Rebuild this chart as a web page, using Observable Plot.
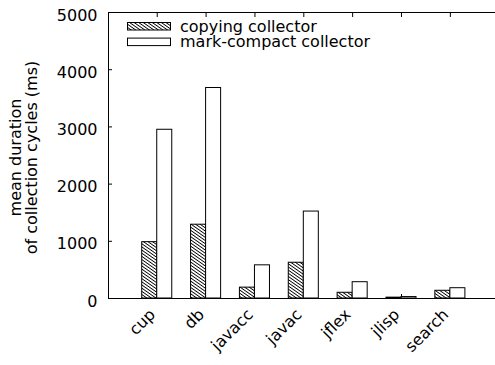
<!DOCTYPE html>
<html>
<head>
<meta charset="utf-8">
<script src="https://cdn.jsdelivr.net/npm/d3@7"></script>
<script src="https://cdn.jsdelivr.net/npm/@observablehq/plot@0.6"></script>
<style>
  html, body { margin: 0; padding: 0; background: #fff; }
  svg { display: block; }
</style>
</head>
<body>
<div id="chart"></div>
<script>
const categories = ["cup", "db", "javacc", "javac", "jflex", "jlisp", "search"];
const copying = [985, 1290, 190, 625, 100, 15, 135];
const markCompact = [2950, 3680, 580, 1520, 285, 25, 180];
const seriesNames = ["copying collector", "mark-compact collector"];
const yTicks = [0, 1000, 2000, 3000, 4000, 5000];
const yLabel = "mean duration\nof collection cycles (ms)";

const W = 495, H = 365;
const mL = 108, mT = 12, mB = 67, mR = -3.6;

const plot = Plot.plot({
  width: W,
  height: H,
  marginLeft: mL,
  marginRight: mR,
  marginTop: mT,
  marginBottom: mB,
  style: { fontFamily: "DejaVu Sans, sans-serif", fontSize: "16px", color: "#000", background: "#fff", overflow: "visible" },
  x: { type: "band", domain: categories, paddingInner: 0.385, paddingOuter: 0.69, round: false },
  y: { domain: [0, 5000], ticks: yTicks },
  marks: [
    // inward ticks
    Plot.axisY({ anchor: "left", ticks: yTicks, tickSize: 4, text: null, dx: 4, label: null }),
    Plot.axisY({ anchor: "right", ticks: yTicks, tickSize: 4, text: null, dx: -4, label: null }),
    Plot.axisX({ anchor: "top", tickSize: 4, text: null, dy: 4, label: null }),
    Plot.axisX({ anchor: "bottom", tickSize: 4, text: null, dy: -4, label: null }),
    // y tick labels
    Plot.axisY({ anchor: "left", ticks: yTicks, tickFormat: d => String(d), tickSize: 0, tickPadding: 11, dy: 3, label: null, fontSize: 16 }),
    // bars
    Plot.barY(categories, { x: categories, y: copying, fill: "url(#hatch)", stroke: "#000", strokeWidth: 1, insetRight: 15.03 }),
    Plot.barY(categories, { x: categories, y: markCompact, fill: "#fff", stroke: "#000", strokeWidth: 1, insetLeft: 15.03 }),
    Plot.frame({ stroke: "#000", strokeWidth: 1 }),
    // x labels
    Plot.text(categories, { x: d => d, frameAnchor: "bottom", text: d => d, rotate: -45, textAnchor: "end", dy: 17, dx: -1, fontSize: 16 }),
    // y label
    Plot.text([yLabel], { frameAnchor: "left", text: d => d, rotate: -90, textAnchor: "middle", dx: -85, dy: 2, lineHeight: 1, fontSize: 16 })
  ]
});

const svg = d3.select(plot);
svg.insert("defs", ":first-child").html(
  '<pattern id="hatch" patternUnits="userSpaceOnUse" width="10" height="2.6" patternTransform="rotate(35)">' +
  '<rect width="10" height="2.6" fill="#fff"/>' +
  '<line x1="0" y1="1.3" x2="10" y2="1.3" stroke="#000" stroke-width="0.9"/></pattern>'
);

// legend
const leg = svg.append("g").attr("font-family", "DejaVu Sans, sans-serif").attr("font-size", 16).attr("text-anchor", "start");
const legFills = ["url(#hatch)", "#fff"];
seriesNames.forEach((name, i) => {
  leg.append("rect").attr("x", 127.5).attr("y", 22.5 + i * 15.6).attr("width", 43).attr("height", 7.5)
    .attr("fill", legFills[i]).attr("stroke", "#000").attr("stroke-width", 1);
  leg.append("text").attr("x", 180).attr("y", 31.5 + i * 15.4).attr("text-anchor", "start").text(name);
});

document.getElementById("chart").appendChild(plot);
</script>
</body>
</html>
